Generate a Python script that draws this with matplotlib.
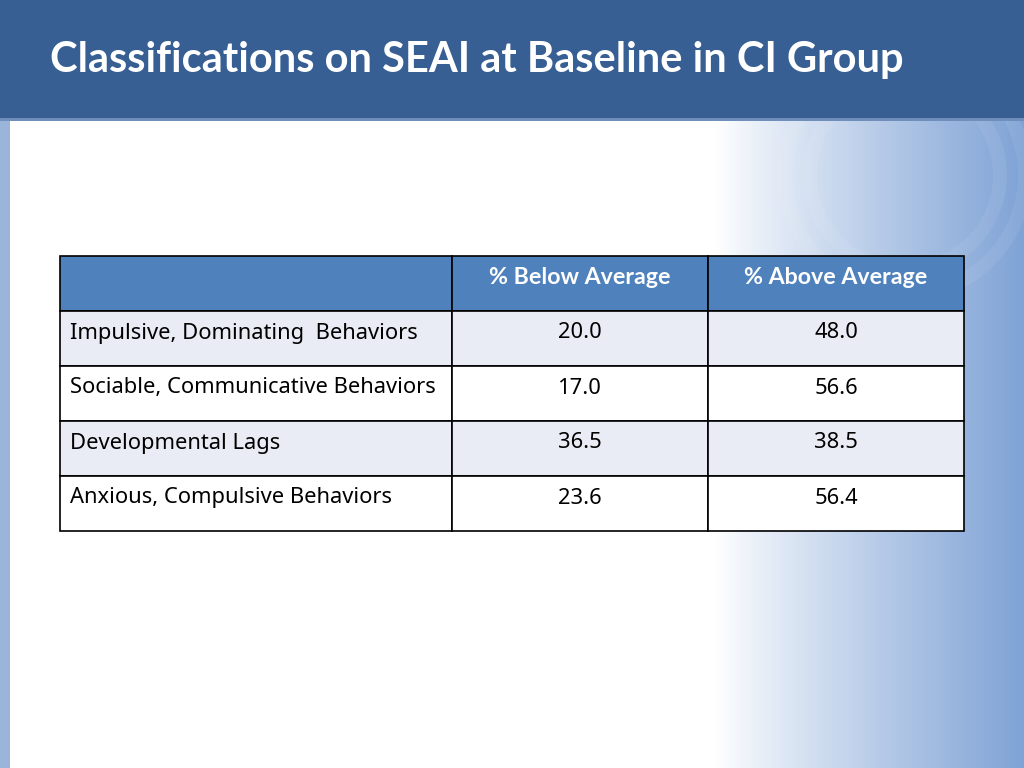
import numpy as np
import matplotlib.pyplot as plt
from matplotlib.patches import Rectangle

# table data
title = "Classifications on SEAI at Baseline in CI Group"
col_headers = ["", "% Below Average", "% Above Average"]
categories = ["Impulsive, Dominating  Behaviors",
              "Sociable, Communicative Behaviors",
              "Developmental Lags",
              "Anxious, Compulsive Behaviors"]
below_avg = [20.0, 17.0, 36.5, 23.6]
above_avg = [48.0, 56.6, 38.5, 56.4]

W, H = 1024, 768
fig = plt.figure(figsize=(W / 100, H / 100), dpi=100)
ax = fig.add_axes([0, 0, 1, 1])
ax.set_xlim(0, W)
ax.set_ylim(H, 0)
ax.axis("off")

# background: white fading to blue on the right
xs = np.linspace(0, 1, 512)
t = np.clip((xs - 0.70) / 0.30, 0, 1) ** 0.9
c0 = np.array([1.0, 1.0, 1.0])
c1 = np.array([0.50, 0.64, 0.84])
row = c0[None, :] * (1 - t[:, None]) + c1[None, :] * t[:, None]
grad = np.tile(row[None, :, :], (8, 1, 1))
ax.imshow(grad, extent=[0, W, H, 118], aspect="auto", zorder=0)

# faint decorative rings on the right
for r in [95, 120]:
    ax.add_patch(plt.Circle((905, 175), r, fill=False, ec="white",
                            lw=10, alpha=0.07, zorder=1))

# header band and left strip
ax.add_patch(Rectangle((0, 0), W, 118, fc="#375F93", ec="none", zorder=2))
ax.add_patch(Rectangle((0, 118), W, 3, fc="#6F8FBA", ec="none", zorder=2))
ax.add_patch(Rectangle((0, 121), 10, H - 121, fc="#9BB5DA", ec="none", zorder=2))

ax.text(50, 60, title, color="white", fontsize=30, fontweight="bold",
        family="Lato", va="center", ha="left", zorder=3)

# table
col_x = [60, 452, 708, 964]
row_h = 55
top = 256
n_rows = len(categories) + 1
fs = 15.8

for i in range(n_rows):
    y = top + i * row_h
    if i == 0:
        fc = "#4F81BD"
    elif i % 2 == 1:
        fc = "#E9EBF5"
    else:
        fc = "white"
    for j in range(3):
        ax.add_patch(Rectangle((col_x[j], y), col_x[j + 1] - col_x[j], row_h,
                               fc=fc, ec="black", lw=1.2, zorder=4))

ty = top + 22
for j in range(1, 3):
    ax.text((col_x[j] + col_x[j + 1]) / 2, ty, col_headers[j], color="white",
            fontsize=16.7, fontweight="bold", family="Lato",
            ha="center", va="center", zorder=5)

for i, (cat, b, a) in enumerate(zip(categories, below_avg, above_avg)):
    ty = top + (i + 1) * row_h + 22
    ax.text(col_x[0] + 10, ty, cat, fontsize=fs, family="Noto Sans",
            ha="left", va="center", zorder=5)
    ax.text((col_x[1] + col_x[2]) / 2, ty, f"{b:.1f}", fontsize=fs,
            family="Noto Sans", ha="center", va="center", zorder=5)
    ax.text((col_x[2] + col_x[3]) / 2, ty, f"{a:.1f}", fontsize=fs,
            family="Noto Sans", ha="center", va="center", zorder=5)

fig.savefig("out.png", dpi=100)
